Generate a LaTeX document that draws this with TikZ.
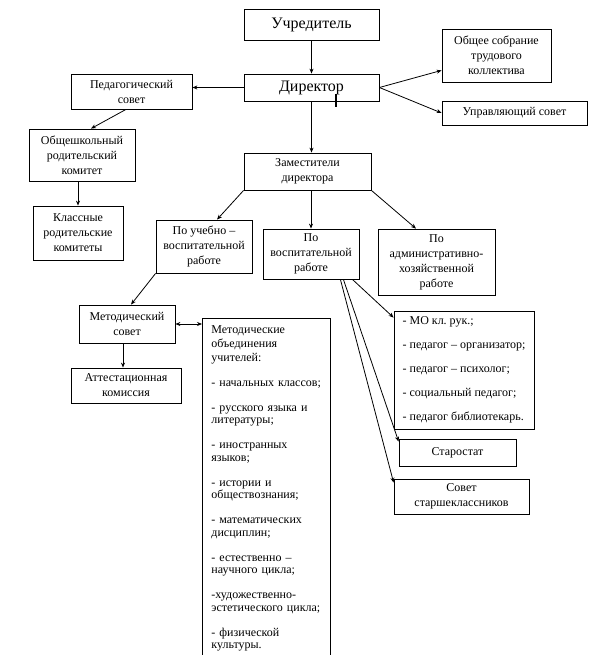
\documentclass[tikz,border=0pt]{standalone}
\usepackage{fontspec}
\setmainfont{Liberation Serif}
\usetikzlibrary{arrows.meta}
\frenchspacing
\tikzset{
  box/.style={draw, line width=0.8pt, inner sep=0pt, align=center, font=\fontsize{12}{15}\selectfont},
  bigbox/.style={box, font=\fontsize{16}{18}\selectfont},
  conn/.style={line width=0.8pt, -{Stealth[length=5pt,width=4pt]}},
  conn2/.style={line width=0.8pt, {Stealth[length=5pt,width=4pt]}-{Stealth[length=5pt,width=4pt]}}
}
\begin{document}
\begin{tikzpicture}[x=1pt,y=-1pt]
\useasboundingbox (0,0) rectangle (615,655);
\fill[white] (0,0) rectangle (615,655);

\node[bigbox, minimum width=135, minimum height=31] (uchr) at (311.5,24.5) {Учредитель};
\node[bigbox, minimum width=135, minimum height=27] (dir) at (311.5,87.5) {Директор};
\node[box, minimum width=109, minimum height=53] (obs) at (496.5,55.5) {Общее собрание\\трудового\\коллектива};
\node[box, minimum width=145, minimum height=24] (upr) at (514.5,113) {Управляющий совет};
\node[box, minimum width=121, minimum height=35] (ped) at (131.5,91.5) {Педагогический\\совет};
\node[box, minimum width=106, minimum height=52] (obsch) at (82,155) {Общешкольный\\родительский\\комитет};
\node[box, minimum width=90, minimum height=54] (klass) at (78,233) {Классные\\родительские\\комитеты};
\node[box, minimum width=127, minimum height=37] (zam) at (307.5,171.5) {Заместители\\директора};
\node[box, minimum width=96, minimum height=53] (ucheb) at (204,246.5) {По учебно –\\воспитательной\\работе};
\node[box, minimum width=96, minimum height=50] (vosp) at (311,254) {По\\воспитательной\\работе};
\node[box, minimum width=117, minimum height=66] (adm) at (436.5,262) {По\\административно-\\хозяйственной\\работе};
\node[box, minimum width=96, minimum height=38] (met) at (127,324) {Методический\\совет};
\node[box, minimum width=110, minimum height=35] (att) at (126,385.5) {Аттестационная\\комиссия};
\node[box, anchor=north west, align=left, text width=110pt, inner xsep=9pt, inner ysep=7pt,
      font=\fontsize{12}{12.5}\selectfont] (mobj) at (202,318)
  {Методические\\[1.5pt]объединения\\[1.5pt]учителей:\\[12.5pt]- начальных классов;\\[12.5pt]- русского языка и\\литературы;\\[12.5pt]- иностранных\\языков;\\[12.5pt]- истории и\\обществознания;\\[12.5pt]- математических\\дисциплин;\\[12.5pt]- естественно –\\научного цикла;\\[12.5pt]-художественно-\\эстетического цикла;\\[12.5pt]- физической\\культуры.\\[30pt]\mbox{}};
\node[box, minimum width=140, minimum height=118, align=left,
      font=\fontsize{12}{12}\selectfont] (mo) at (464,370)
  {- МО кл. рук.;\\[12pt]- педагог – организатор;\\[12pt]- педагог – психолог;\\[12pt]- социальный педагог;\\[12pt]- педагог библиотекарь.};
\node[box, minimum width=117, minimum height=27] (star) at (457.5,452.5) {Старостат};
\node[box, minimum width=135, minimum height=35] (sov) at (461.5,496.5) {Совет\\старшеклассников};

% cursor mark
\draw[line width=1.4pt] (336,94) -- (336,107);

% connectors
\draw[conn] (uchr.south) -- (dir.north);
\draw[conn] (dir.west) -- (dir.west -| ped.east);
\draw[conn] (dir.east) -- ([yshift=12pt]obs.south west);
\draw[conn] (dir.east) -- (upr.west);
\draw[conn] (dir.south) -- (dir.south |- zam.north);
\draw[conn] ([xshift=-5.5pt]ped.south) -- ([xshift=9pt]obsch.north);
\draw[conn] (obsch.south -| klass.north) -- (klass.north);
\draw[conn] (zam.south west) -- ([xshift=13pt]ucheb.north);
\draw[conn] (zam.south -| vosp.north) -- (vosp.north);
\draw[conn] (zam.south east) -- ([xshift=-20.5pt]adm.north);
\draw[conn] (ucheb.south west) -- ([xshift=4pt]met.north);
\draw[conn2] (met.east) -- (met.east -| mobj.west);
\draw[conn] ([xshift=-4pt]met.south) -- ([xshift=-4pt]met.south |- att.north);
\draw[conn] ([xshift=-7pt]vosp.south east) -- ([yshift=-7pt]mo.north west);
\draw[conn] ([xshift=-16pt]vosp.south east) -- ([yshift=-3pt]star.north west);
\draw[conn] ([xshift=-19pt]vosp.south east) -- ([yshift=-4pt]sov.north west);
\end{tikzpicture}
\end{document}
